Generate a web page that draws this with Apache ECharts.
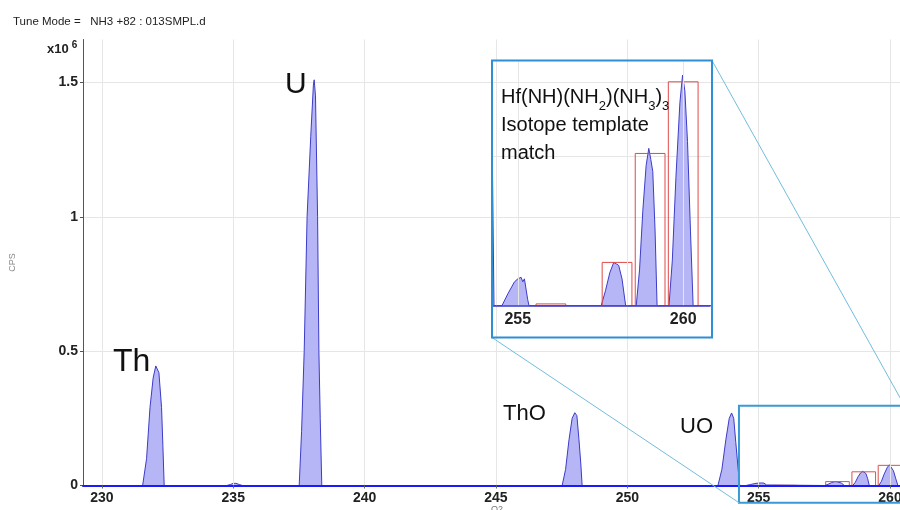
<!DOCTYPE html>
<html><head><meta charset="utf-8">
<script src="https://cdn.jsdelivr.net/npm/echarts@6/dist/echarts.min.js"></script>
<style>html,body{margin:0;padding:0;background:#fff}#c{width:900px;height:510px}</style>
</head><body><div id="c"></div>
<script>
// ---- Data (Q2 mass, CPS in units of 10^6) ----
const mass = [229.3,
  231.55, 231.7, 231.83, 231.95, 232.05, 232.1, 232.17, 232.27, 232.32, 232.37,
  234.75, 234.9, 235.0, 235.1, 235.25, 235.35,
  237.51, 237.6, 237.7, 237.81, 237.95, 238.05, 238.08, 238.13, 238.21, 238.26, 238.31, 238.37,
  247.52, 247.65, 247.78, 247.9, 248.0, 248.08, 248.16, 248.23, 248.28,
  253.45, 253.6, 253.75, 253.88, 253.97, 254.05, 254.13, 254.22, 254.28,
  254.52, 254.7, 254.9, 255.0, 255.1, 255.15, 255.2, 255.3, 255.34,
  257.52, 257.65, 257.78, 257.9, 257.98, 258.05, 258.15, 258.26,
  258.58, 258.68, 258.78, 258.88, 258.96, 259.02, 259.08, 259.15, 259.21,
  259.57, 259.67, 259.78, 259.9, 259.98, 260.05, 260.13, 260.22, 260.3,
  261.0];
const cps = [0,
  0, 0.1, 0.29, 0.40, 0.445, 0.452, 0.42, 0.29, 0.15, 0,
  0, 0.004, 0.008, 0.008, 0.003, 0,
  0, 0.2, 0.5, 1.0, 1.3, 1.49, 1.51, 1.45, 1.0, 0.5, 0.25, 0,
  0, 0.06, 0.17, 0.25, 0.271, 0.26, 0.17, 0.08, 0,
  0, 0.06, 0.17, 0.25, 0.27, 0.25, 0.16, 0.06, 0,
  0, 0.004, 0.008, 0.009, 0.0095, 0.008, 0.009, 0.002, 0,
  0, 0.005, 0.011, 0.0145, 0.014, 0.0135, 0.009, 0,
  0, 0.012, 0.032, 0.047, 0.0527, 0.049, 0.045, 0.025, 0,
  0, 0.015, 0.043, 0.068, 0.0772, 0.072, 0.055, 0.025, 0,
  0];
// Isotope template match (boxes)
const templateMass = [256, 258, 259, 260];
const templateCps = [0.0006, 0.0145, 0.051, 0.075];
// Zoomed region marker on main plot
const zoomMass = [254.25, 260.55];
const zoomCps = [-0.064, 0.297];
// Text
const titleText = 'Tune Mode =   NH3 +82 : 013SMPL.d';
const peakLabels = ['Th', 'U', 'ThO', 'UO'];

const spectrum = mass.map((m, i) => [m, cps[i]]);
const boxes = templateMass.map((m, i) => [m, templateCps[i]]);

const FONT = '"Liberation Sans", Arial, sans-serif';
const FILL = '#b6b6f7', LINE = '#3c3cc8', BOX_HALF = 0.45;
const INSET = {x: 492, y: 60.5, w: 220, h: 277};

function boxItem(color) {
  return function (params, api) {
    const m = api.value(0), h = api.value(1);
    const a = api.coord([m - BOX_HALF, h]);
    const b = api.coord([m + BOX_HALF, 0]);
    return {type: 'rect', shape: {x: a[0], y: a[1], width: b[0] - a[0], height: b[1] - a[1]},
      style: {fill: 'none', stroke: color, lineWidth: 1}};
  };
}

const chart = echarts.init(document.getElementById('c'), null, {renderer: 'canvas'});
chart.setOption({
  animation: false,
  backgroundColor: '#fff',
  textStyle: {fontFamily: FONT},
  grid: [
    {left: 83, top: 39.5, right: 0, bottom: 24.5, containLabel: false, outerBoundsMode: 'none'},
    {left: 492, top: 61.5, width: 218, height: 244.2, containLabel: false, outerBoundsMode: 'none'}
  ],
  xAxis: [
    {type: 'value', gridIndex: 0, min: 229.28, max: 260.38, splitNumber: 6, z: 5,
      axisLine: {lineStyle: {color: '#1a1aff', width: 2}},
      axisTick: {show: true, length: 3, lineStyle: {color: '#666'}},
      axisLabel: {showMinLabel: false, showMaxLabel: false, fontSize: 14, fontWeight: 'bold', color: '#222', margin: 6, fontFamily: FONT},
      splitLine: {show: true, showMinLine: false, showMaxLine: false, lineStyle: {color: '#e6e6e6'}}},
    {type: 'value', gridIndex: 1, min: 254.22, max: 260.81, splitNumber: 1, z: 5,
      axisLine: {lineStyle: {color: '#3a3ad0', width: 1.5}},
      axisTick: {show: false},
      axisLabel: {showMinLabel: false, showMaxLabel: false, fontSize: 16, fontWeight: 'bold', color: '#222', margin: 6, fontFamily: FONT},
      splitLine: {show: true, showMinLine: false, showMaxLine: false, lineStyle: {color: '#e6e6e6'}}}
  ],
  yAxis: [
    {type: 'value', gridIndex: 0, min: 0, max: 1.66, interval: 0.5,
      name: 'CPS', nameLocation: 'middle', nameGap: 66, nameRotate: 90,
      nameTextStyle: {fontSize: 9, color: '#888', fontFamily: FONT},
      axisLine: {show: true, lineStyle: {color: '#555', width: 1}},
      axisTick: {show: true, length: 3, lineStyle: {color: '#555'}},
      axisLabel: {showMaxLabel: false, fontSize: 14, fontWeight: 'bold', color: '#222', margin: 5, fontFamily: FONT},
      splitLine: {show: true, showMaxLine: false, lineStyle: {color: '#e6e6e6'}}},
    {type: 'value', gridIndex: 1, min: 0, max: 0.0818, interval: 0.05,
      axisLine: {show: false}, axisTick: {show: false}, axisLabel: {show: false},
      splitLine: {show: true, showMinLine: false, showMaxLine: false, lineStyle: {color: '#e6e6e6'}}}
  ],
  series: [
    {type: 'line', xAxisIndex: 0, yAxisIndex: 0, data: spectrum, symbol: 'none', z: 2,
      lineStyle: {color: LINE, width: 1}, areaStyle: {color: FILL, opacity: 1}},
    {type: 'custom', xAxisIndex: 0, yAxisIndex: 0, data: boxes, z: 3,
      encode: {x: 0, y: 1}, renderItem: boxItem('#d9534f')},
    {type: 'custom', xAxisIndex: 0, yAxisIndex: 0, z: 6,
      data: [[zoomMass[0], zoomMass[1], zoomCps[0], zoomCps[1]]],
      encode: {x: [0, 1], y: [2, 3]},
      renderItem: function (params, api) {
        const a = api.coord([api.value(0), api.value(3)]);
        const b = api.coord([api.value(1), api.value(2)]);
        return {type: 'group', children: [
          {type: 'rect', shape: {x: a[0], y: a[1], width: b[0] - a[0], height: b[1] - a[1]},
            style: {fill: 'none', stroke: '#3a9ad5', lineWidth: 2}},
          {type: 'line', shape: {x1: INSET.x, y1: INSET.y + INSET.h, x2: a[0], y2: b[1]},
            style: {stroke: '#72bddc', lineWidth: 1}},
          {type: 'line', shape: {x1: INSET.x + INSET.w, y1: INSET.y, x2: b[0], y2: a[1]},
            style: {stroke: '#72bddc', lineWidth: 1}}
        ]};
      }},
    {type: 'line', xAxisIndex: 1, yAxisIndex: 1, data: spectrum, symbol: 'none', z: 2,
      lineStyle: {color: LINE, width: 1}, areaStyle: {color: FILL, opacity: 1}},
    {type: 'custom', xAxisIndex: 1, yAxisIndex: 1, data: boxes, z: 3,
      encode: {x: 0, y: 1}, renderItem: boxItem('#e04a4a')}
  ],
  graphic: [
    {type: 'text', left: 13, top: 16, z: 10, style: {text: titleText, font: '11.5px ' + FONT, fill: '#222'}},
    {type: 'text', x: 47, y: 40, z: 10, style: {
      text: '{a|x10}{b|6}', rich: {
        a: {fontFamily: FONT, fontSize: 13, fontWeight: 'bold', fill: '#222', lineHeight: 16, verticalAlign: 'bottom'},
        b: {fontFamily: FONT, fontSize: 10, fontWeight: 'bold', fill: '#222', lineHeight: 16, verticalAlign: 'top', padding: [0, 0, 0, 3]}}}},
    {type: 'text', x: 497, y: 505, z: 10, style: {text: 'Q2', font: '9px ' + FONT, fill: '#777', align: 'center', verticalAlign: 'top'}},
    {type: 'text', x: 113, y: 362, z: 10, style: {text: peakLabels[0], font: '32px ' + FONT, fill: '#111', verticalAlign: 'middle'}},
    {type: 'text', x: 285, y: 85, z: 10, style: {text: peakLabels[1], font: '30px ' + FONT, fill: '#111', verticalAlign: 'middle'}},
    {type: 'text', x: 503, y: 414, z: 10, style: {text: peakLabels[2], font: '22px ' + FONT, fill: '#111', verticalAlign: 'middle'}},
    {type: 'text', x: 680, y: 427, z: 10, style: {text: peakLabels[3], font: '22px ' + FONT, fill: '#111', verticalAlign: 'middle'}},
    {type: 'rect', z: 9, shape: {x: INSET.x, y: INSET.y, width: INSET.w, height: INSET.h},
      style: {fill: 'none', stroke: '#2e8fd6', lineWidth: 2}},
    {type: 'text', x: 501, y: 87, z: 10, style: {
      text: '{n|Hf(NH)(NH}{s|2}{n|)(NH}{s|3}{n|)}{s|3}', rich: {
        n: {fontFamily: FONT, fontSize: 20, fill: '#111', lineHeight: 26, verticalAlign: 'top'},
        s: {fontFamily: FONT, fontSize: 13, fill: '#111', lineHeight: 13, verticalAlign: 'bottom'}}}},
    {type: 'text', x: 501, y: 125, z: 10, style: {text: 'Isotope template', font: '20px ' + FONT, fill: '#111', verticalAlign: 'middle'}},
    {type: 'text', x: 501, y: 153, z: 10, style: {text: 'match', font: '20px ' + FONT, fill: '#111', verticalAlign: 'middle'}}
  ]
});
</script>
</body></html>
